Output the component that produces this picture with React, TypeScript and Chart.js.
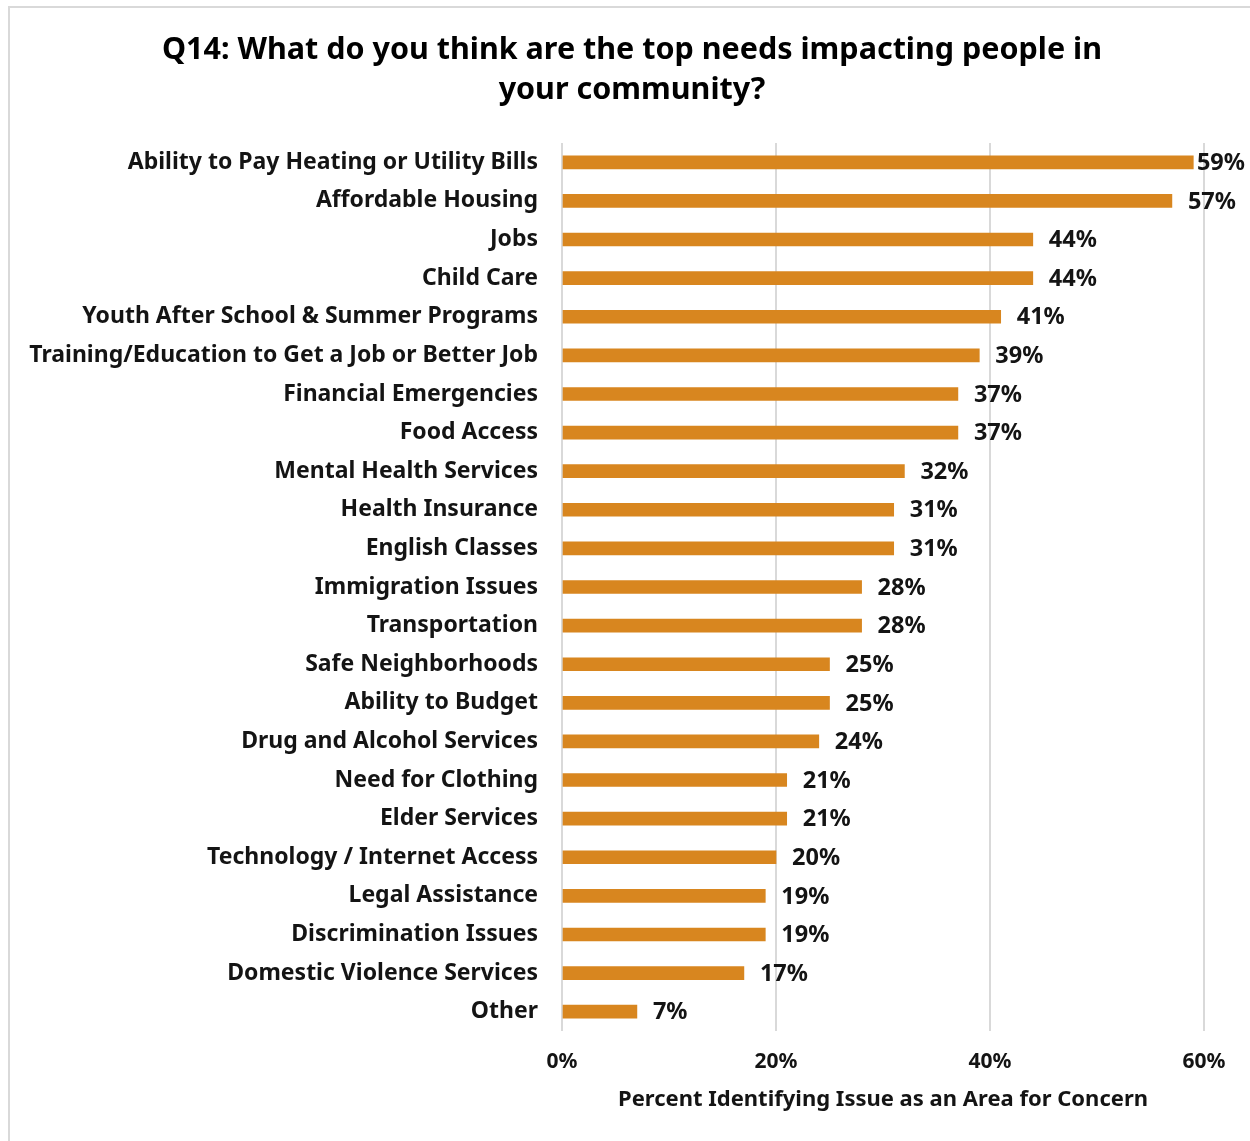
import React, { useEffect, useRef } from "react";
import { Chart, registerables } from "chart.js";

Chart.register(...registerables);

// Survey responses, top to bottom
const categories = [
  "Ability to Pay Heating or Utility Bills",
  "Affordable Housing",
  "Jobs",
  "Child Care",
  "Youth After School & Summer Programs",
  "Training/Education to Get a Job or Better Job",
  "Financial Emergencies",
  "Food Access",
  "Mental Health Services",
  "Health Insurance",
  "English Classes",
  "Immigration Issues",
  "Transportation",
  "Safe Neighborhoods",
  "Ability to Budget",
  "Drug and Alcohol Services",
  "Need for Clothing",
  "Elder Services",
  "Technology / Internet Access",
  "Legal Assistance",
  "Discrimination Issues",
  "Domestic Violence Services",
  "Other",
];

const percentValues = [
  59, 57, 44, 44, 41, 39, 37, 37, 32, 31, 31, 28, 28, 25, 25, 24, 21, 21, 20, 19,
  19, 17, 7,
];

const xTickValues = [0, 20, 40, 60];

const titleLines = [
  "Q14: What do you think are the top needs impacting people in",
  "your community?",
];
const xAxisTitle = "Percent Identifying Issue as an Area for Concern";

const FONT = '"Noto Sans", "Open Sans", sans-serif';
const TEXT = "#141414";
const BAR = "#D8861F";
const GRID = "#d9d9d9";

const CANVAS_W = 1240;
const CANVAS_H = 1133;

// Two-line heading centred across the whole canvas
const chartHeading = {
  id: "chartHeading",
  afterDraw(chart: any) {
    const ctx = chart.ctx as CanvasRenderingContext2D;
    ctx.save();
    ctx.font = `bold 30.5px ${FONT}`;
    ctx.fillStyle = "#000";
    ctx.textAlign = "center";
    ctx.textBaseline = "middle";
    const cx = chart.width / 2 + 2;
    titleLines.forEach((line, i) => ctx.fillText(line, cx, 42 + i * 40));
    ctx.restore();
  },
};

// Writes the percentage just past the end of each bar, kept inside the canvas
const barValueLabels = {
  id: "barValueLabels",
  afterDatasetsDraw(chart: any) {
    const ctx = chart.ctx as CanvasRenderingContext2D;
    const meta = chart.getDatasetMeta(0);
    const data = chart.data.datasets[0].data as number[];
    ctx.save();
    ctx.font = `bold 23.5px ${FONT}`;
    ctx.fillStyle = TEXT;
    ctx.textBaseline = "middle";
    ctx.textAlign = "left";
    meta.data.forEach((bar: any, i: number) => {
      const text = `${data[i]}%`;
      const w = ctx.measureText(text).width;
      const x = Math.min(bar.x + 16, chart.width - w - 5);
      ctx.fillText(text, x, bar.y + 1);
    });
    ctx.restore();
  },
};

export default function App() {
  const canvasRef = useRef<HTMLCanvasElement | null>(null);

  useEffect(() => {
    document.documentElement.style.overflow = "hidden";
    document.body.style.overflow = "hidden";
    const canvas = canvasRef.current;
    if (!canvas) return;

    const chart = new Chart(canvas, {
      type: "bar",
      data: {
        labels: categories,
        datasets: [
          {
            data: percentValues,
            backgroundColor: BAR,
            barThickness: 13,
          },
        ],
      },
      plugins: [chartHeading, barValueLabels],
      options: {
        indexAxis: "y",
        responsive: false,
        animation: false,
        layout: { padding: { top: 135, left: 0, right: 46, bottom: 0 } },
        plugins: {
          legend: { display: false },
          tooltip: { enabled: false },
          title: { display: false },
        },
        scales: {
          x: {
            type: "linear",
            min: 0,
            max: 60,
            afterBuildTicks: (scale: any) => {
              scale.ticks = xTickValues.map((v) => ({ value: v }));
            },
            afterFit: (scale: any) => {
              scale.height = 110;
            },
            ticks: {
              callback: (v: any) => `${v}%`,
              color: TEXT,
              font: { family: FONT, size: 21, weight: "bold", lineHeight: 1.2 },
              padding: 18,
              maxRotation: 0,
            },
            grid: {
              color: GRID,
              lineWidth: 2,
              drawTicks: false,
            },
            border: { display: false },
            title: {
              display: true,
              text: xAxisTitle,
              color: TEXT,
              font: { family: FONT, size: 22, weight: "bold", lineHeight: 1.2 },
              padding: { top: 0, bottom: 28 },
            },
          },
          y: {
            type: "category",
            afterFit: (scale: any) => {
              scale.width = 552;
            },
            ticks: {
              color: TEXT,
              font: { family: FONT, size: 23, weight: "bold" },
              padding: 24,
              autoSkip: false,
            },
            grid: { display: false, drawTicks: false },
            border: { display: false },
          },
        },
      },
    });

    return () => chart.destroy();
  }, []);

  return (
    <div
      style={{
        position: "fixed",
        left: 8,
        top: 6,
        borderTop: `2px solid ${GRID}`,
        borderLeft: `2px solid ${GRID}`,
        width: CANVAS_W,
        height: CANVAS_H,
        background: "#fff",
      }}
    >
      <canvas
        ref={canvasRef}
        width={CANVAS_W}
        height={CANVAS_H}
        style={{ display: "block" }}
      />
    </div>
  );
}
